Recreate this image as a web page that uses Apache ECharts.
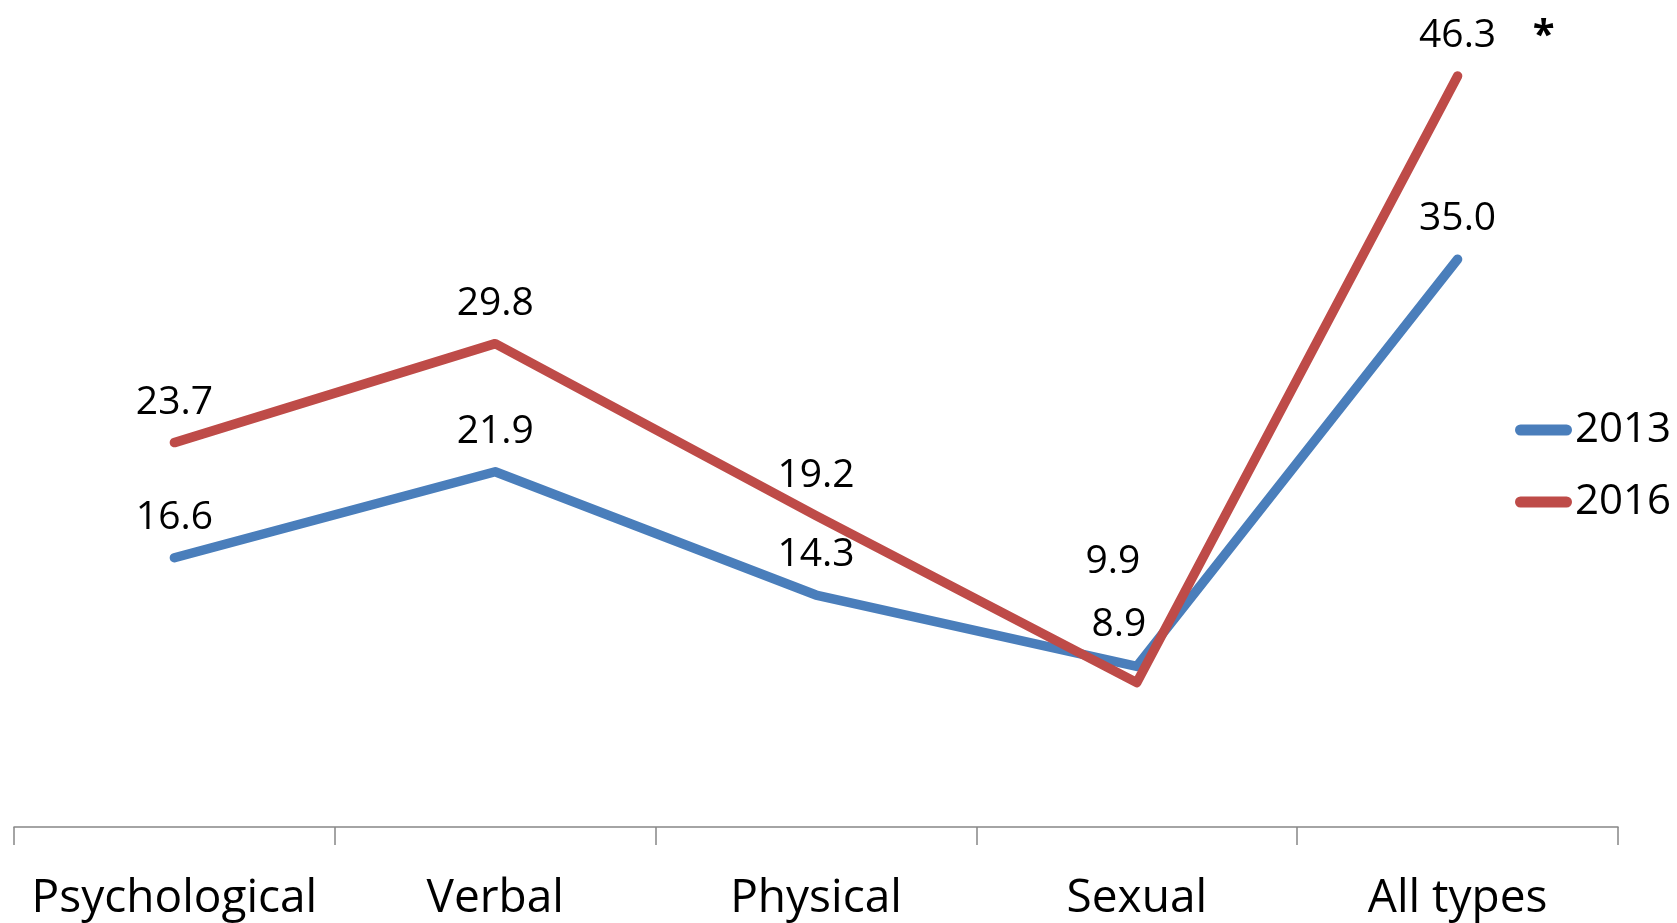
<!DOCTYPE html>
<html>
<head>
<meta charset="utf-8">
<script src="https://cdn.jsdelivr.net/npm/echarts@6/dist/echarts.min.js"></script>
<style>
  html, body { margin: 0; padding: 0; background: #fff; }
  #chart { width: 1677px; height: 923px; }
</style>
</head>
<body>
<div id="chart"></div>
<script>
// Types of abuse reported, percentages by survey year
const categories = ['Psychological', 'Verbal', 'Physical', 'Sexual', 'All types'];
const values2013 = [16.6, 21.9, 14.3, 9.9, 35.0];
const values2016 = [23.7, 29.8, 19.2, 8.9, 46.3];
const seriesNames = ['2013', '2016'];

const FONT = '"Open Sans", "Liberation Sans", sans-serif';
const BLUE = '#4A7EBB';
const RED = '#BE4B48';

// labels above points; the Sexual pair is nudged to avoid overlapping the lines
function withLabels(values, sexualOffset) {
  return values.map((v, i) => {
    const item = { value: v };
    if (categories[i] === 'Sexual') {
      item.label = { offset: sexualOffset };
    }
    return item;
  });
}

const labelStyle = {
  show: true,
  position: 'top',
  distance: 20,
  fontFamily: FONT,
  fontSize: 39,
  color: '#000',
  formatter: p => Number(p.value).toFixed(1)
};

const chart = echarts.init(document.getElementById('chart'));
chart.setOption({
  animation: false,
  backgroundColor: '#fff',
  grid: { left: 14, right: 59, top: 16, bottom: 96, containLabel: false },
  legend: {
    orient: 'vertical',
    left: 1510,
    top: 400,
    itemWidth: 57,
    itemHeight: 11,
    itemGap: 22,
    icon: 'path://M5.5,0 L51.5,0 A5.5,5.5 0 0 1 51.5,11 L5.5,11 A5.5,5.5 0 0 1 5.5,0 Z',
    textStyle: { fontFamily: FONT, fontSize: 42, color: '#000', lineHeight: 50, padding: [0, 0, 0, -2] },
    data: seriesNames
  },
  xAxis: {
    type: 'category',
    data: categories,
    boundaryGap: true,
    axisLine: { lineStyle: { color: '#868686', width: 1.5 } },
    axisTick: { show: true, length: 18, interval: 0, lineStyle: { color: '#868686', width: 1.5 } },
    axisLabel: { fontFamily: FONT, fontSize: 46, color: '#000', margin: 49, interval: 0 },
    splitLine: { show: false }
  },
  yAxis: {
    type: 'value',
    min: 0,
    max: 50,
    interval: 10,
    show: false
  },
  series: [
    {
      name: seriesNames[0],
      type: 'line',
      data: withLabels(values2013, [-24, -65]),
      symbol: 'circle',
      symbolSize: 1,
      showSymbol: true,
      color: BLUE,
      itemStyle: { color: BLUE },
      lineStyle: { width: 9.5, color: BLUE, cap: 'round', join: 'round' },
      label: labelStyle,
      z: 2
    },
    {
      name: seriesNames[1],
      type: 'line',
      data: withLabels(values2016, [-18, -18]),
      symbol: 'circle',
      symbolSize: 1,
      showSymbol: true,
      color: RED,
      itemStyle: { color: RED },
      lineStyle: { width: 9.5, color: RED, cap: 'round', join: 'round' },
      label: labelStyle,
      z: 3,
      markPoint: {
        symbol: 'circle',
        symbolSize: 0,
        itemStyle: { color: 'transparent' },
        label: {
          show: true,
          formatter: '*',
          fontFamily: FONT,
          fontSize: 40,
          fontWeight: 'bold',
          color: '#000',
          offset: [86, -39]
        },
        data: [{ coord: [categories[4], values2016[4]] }]
      }
    }
  ]
});
</script>
</body>
</html>
